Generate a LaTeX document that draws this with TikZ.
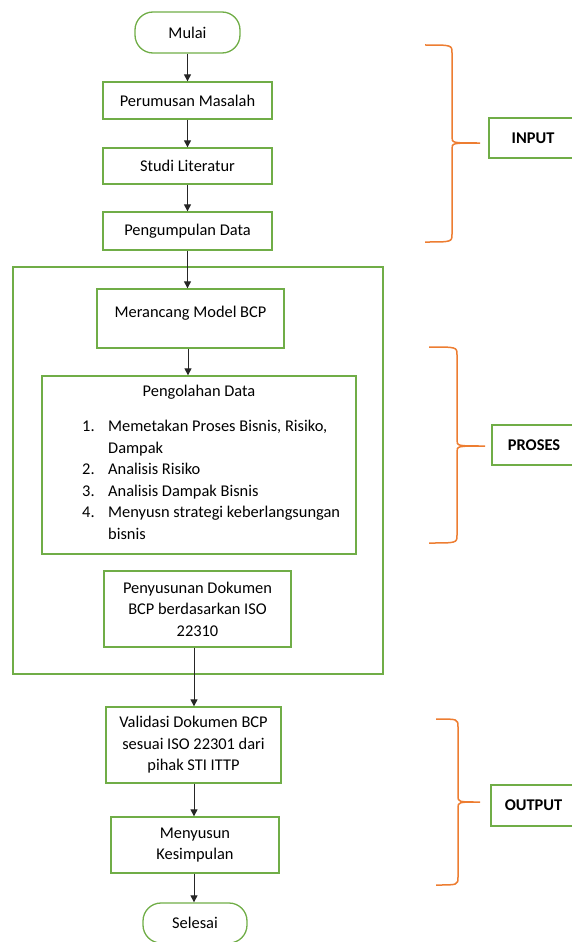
\documentclass[tikz,border=0pt]{standalone}
\usepackage{fontspec}
\setmainfont{Carlito}
\usetikzlibrary{positioning,arrows.meta}
\definecolor{hijau}{HTML}{70AD47}
\definecolor{oranye}{HTML}{ED7D31}

\begin{document}
\begin{tikzpicture}[
		x=1pt, y=-1pt,
		font=\fontsize{16.4}{21.5}\selectfont,
		kotak/.style={draw=hijau, line width=1.3pt, inner sep=0pt, align=center},
		terminal/.style={kotak, rounded corners=18pt},
		tahap/.style={kotak, font=\fontsize{16.4}{21.5}\selectfont\bfseries},
		panah/.style={-{Triangle[length=7pt,width=7pt]}, line width=1pt, black!85},
		kurung/.style={draw=oranye, line width=1.5pt},
	]
		\useasboundingbox (0,0) rectangle (571,942);
		\coordinate (jalur) at (188,0);
		\coordinate (jalurb) at (194,0);
		
		\node [terminal, minimum width=105pt, minimum height=41pt] (mulai) at (187.5,32.5) {Mulai};
		\node [kotak, minimum width=169pt, minimum height=37pt] (perumusan) at (187.5,100.5) {Perumusan Masalah};
		\node [kotak, minimum width=169pt, minimum height=36pt] (studi) at (187.5,166) {Studi Literatur};
		\node [kotak, minimum width=169pt, minimum height=38pt] (pengumpulan) at (187.5,231) {Pengumpulan Data};
		
		\node [kotak, minimum width=370pt, minimum height=407pt] (proses) at (198,470.5) {};
		\node [kotak, minimum width=187pt, minimum height=59pt, text height=10pt, text depth=13pt] (merancang) at (190.5,318.5) {Merancang Model BCP};
		\node [kotak, minimum width=314pt, minimum height=178pt] (pengolahan) at (199,465) {};
		\node (judul) at (199,392) {Pengolahan Data};
		\node [anchor=north west, align=left, inner sep=0pt] (daftar) at (82,420) {%
			\makebox[26pt][l]{1.}Memetakan Proses Bisnis, Risiko,\\
			\hspace*{26pt}Dampak\\
			\makebox[26pt][l]{2.}Analisis Risiko\\
			\makebox[26pt][l]{3.}Analisis Dampak Bisnis\\
			\makebox[26pt][l]{4.}Menyusn strategi keberlangsungan\\
			\hspace*{26pt}bisnis};
		\node [kotak, minimum width=187pt, minimum height=76pt] (penyusunan) at (197.5,609) {Penyusunan Dokumen\\BCP berdasarkan ISO\\22310};
		
		\node [kotak, minimum width=175pt, minimum height=76pt] (validasi) at (193.5,745) {Validasi Dokumen BCP\\sesuai ISO 22301 dari\\pihak STI ITTP};
		\node [kotak, minimum width=168pt, minimum height=56pt] (menyusun) at (195,845) {Menyusun\\Kesimpulan};
		\node [terminal, minimum width=104pt, minimum height=40pt] (selesai) at (195,923) {Selesai};
		
		\node [tahap, minimum width=88pt, minimum height=40pt] (input) at (533,138) {INPUT};
		\node [tahap, minimum width=84pt, minimum height=40pt] (prosestahap) at (534,445) {PROSES};
		\node [tahap, minimum width=85pt, minimum height=41pt] (output) at (533.5,805.5) {OUTPUT};
		
		\draw[panah] (mulai) -- (perumusan);
		\draw[panah] (perumusan) -- (studi);
		\draw[panah] (studi) -- (pengumpulan);
		\draw[panah] (pengumpulan) -- (pengumpulan |- merancang.north);
		\draw[panah] (merancang.south -| jalur) -- (pengolahan.north -| jalur);
		\draw[panah] (penyusunan.south -| jalurb) -- (validasi.north -| jalurb);
		\draw[panah] (validasi.south -| jalurb) -- (menyusun.north -| jalurb);
		\draw[panah] (menyusun.south -| jalurb) -- (selesai.north -| jalurb);
		
		% kurung kurawal
		\foreach \xa/\xb/\xc/\ya/\yb/\yc in {425/452/480/45/143/242, 429/457/485/347/446/543, 436/458/480/719/802/885}
			\draw[kurung] (\xa,\ya) .. controls (\xb,\ya) .. (\xb,\ya+8) -- (\xb,\yb-6) .. controls (\xb,\yb) .. (\xc,\yb)
				.. controls (\xb,\yb) .. (\xb,\yb+6) -- (\xb,\yc-8) .. controls (\xb,\yc) .. (\xa,\yc);
	\end{tikzpicture}
\end{document}
